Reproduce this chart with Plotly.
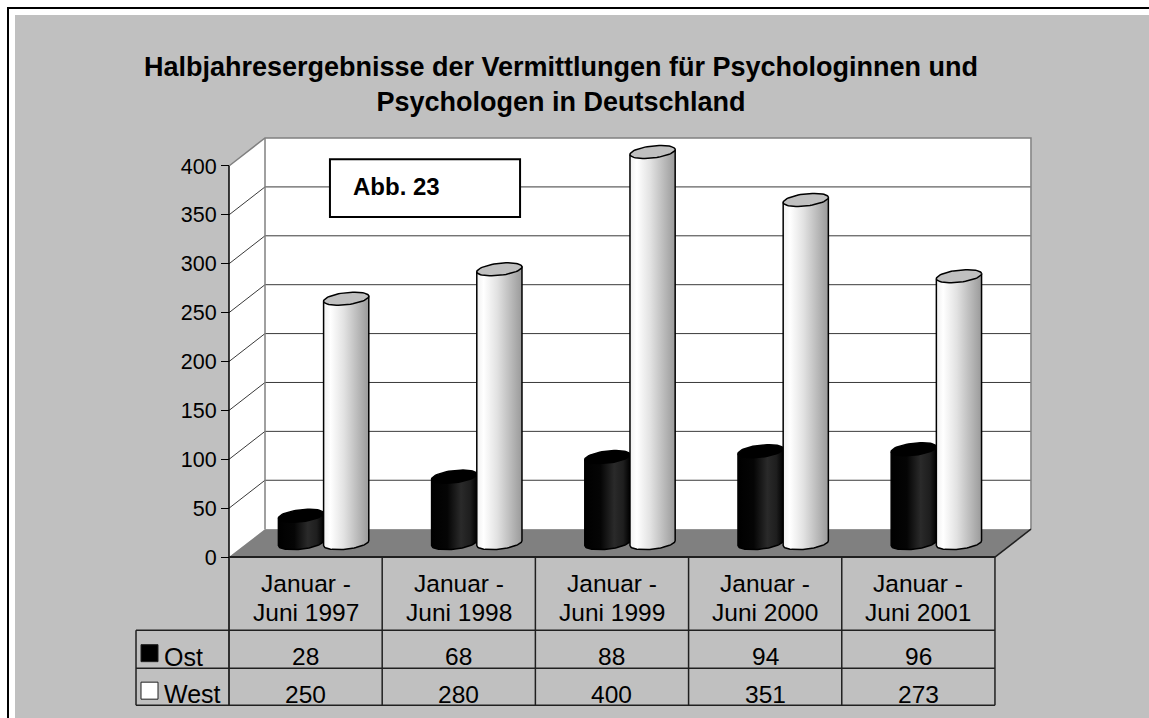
import numpy as np
import plotly.graph_objects as go

# ---------------- data ----------------
CATEGORIES = ["Januar - Juni 1997", "Januar - Juni 1998", "Januar - Juni 1999",
              "Januar - Juni 2000", "Januar - Juni 2001"]
OST = [28, 68, 88, 94, 96]
WEST = [250, 280, 400, 351, 273]
SERIES_NAMES = ["Ost", "West"]
Y_TICKS = [0, 50, 100, 150, 200, 250, 300, 350, 400]
TITLE = "Halbjahresergebnisse der Vermittlungen für Psychologinnen und<br>Psychologen in Deutschland"
NOTE = "Abb. 23"

# ---------------- layout geometry ----------------
W, H = 1149, 718
ML, MR, MT, MB = 120, 109, 130, 6
X_RANGE = [-0.7115, 5.294]
Y_RANGE = [-158.4, 436.8]
PX_X = (W - ML - MR) / (X_RANGE[1] - X_RANGE[0])
PX_Y = (H - MT - MB) / (Y_RANGE[1] - Y_RANGE[0])
DX, DY = 0.235, 28.6          # 3D depth offset (data units)
BAR_W = 0.295                  # cylinder diameter (x units)
RY = 6.2                       # ellipse half height (y units)
TILT = 2.5
ROW_CAT, ROW_OST, ROW_WEST = -74.7, -113.6, -151.4
LEG_X = -0.607
YMAX = Y_TICKS[-1]
N = len(CATEGORIES)
FONT = "Arial, Liberation Sans, sans-serif"


def paper_x(px):
    return (px - ML) / (W - ML - MR)


def paper_y(py):
    return (H - MB - py) / (H - MT - MB)


fig = go.Figure()
shapes = []
annotations = []

# outer frame (top + left only visible) + grey background
shapes.append(dict(type="rect", xref="paper", yref="paper", layer="below",
                   x0=paper_x(15), x1=paper_x(1200), y0=paper_y(760), y1=paper_y(15),
                   fillcolor="#c0c0c0", line=dict(width=0)))
shapes.append(dict(type="path", xref="paper", yref="paper", layer="below",
                   path=f"M{paper_x(8)},{paper_y(760)} L{paper_x(8)},{paper_y(8)} L{paper_x(1200)},{paper_y(8)}",
                   line=dict(color="black", width=2)))

# side wall, back wall, floor
shapes.append(dict(type="path", xref="x", yref="y", layer="below",
                   path=f"M0,0 L{DX},{DY} L{DX},{YMAX+DY} L0,{YMAX} Z",
                   fillcolor="white", line=dict(width=0)))
shapes.append(dict(type="rect", xref="x", yref="y", layer="below",
                   x0=DX, x1=N + DX, y0=DY, y1=YMAX + DY,
                   fillcolor="white", line=dict(width=0)))
shapes.append(dict(type="path", xref="x", yref="y", layer="below",
                   path=f"M0,0 L{N},0 L{N+DX},{DY} L{DX},{DY} Z",
                   fillcolor="#808080", line=dict(width=0)))
# grid lines on walls
for v in Y_TICKS[1:-1]:
    shapes.append(dict(type="path", xref="x", yref="y", layer="below",
                       path=f"M0,{v} L{DX},{v+DY} L{N+DX},{v+DY}",
                       line=dict(color="#3a3a3a", width=1)))
# wall edges
shapes.append(dict(type="path", xref="x", yref="y", layer="below",
                   path=f"M0,{YMAX} L{DX},{YMAX+DY} L{N+DX},{YMAX+DY} L{N+DX},{DY}",
                   line=dict(color="#808080", width=1.5)))
shapes.append(dict(type="line", xref="x", yref="y", layer="below",
                   x0=DX, x1=DX, y0=DY, y1=YMAX + DY, line=dict(color="#808080", width=1.5)))
shapes.append(dict(type="line", xref="x", yref="y", layer="below",
                   x0=N, x1=N + DX, y0=0, y1=DY, line=dict(color="#202020", width=1.5)))

# data table lines
shapes.append(dict(type="line", xref="x", yref="y", x0=0, x1=0, y0=YMAX, y1=ROW_WEST,
                   line=dict(color="black", width=1.5)))
shapes.append(dict(type="line", xref="x", yref="y", x0=0, x1=N, y0=0, y1=0,
                   line=dict(color="#202020", width=2)))
for yy in (ROW_CAT, ROW_OST, ROW_WEST):
    shapes.append(dict(type="line", xref="x", yref="y", x0=LEG_X, x1=N, y0=yy, y1=yy,
                       line=dict(color="#202020", width=1.5)))
shapes.append(dict(type="line", xref="x", yref="y", x0=LEG_X, x1=LEG_X, y0=ROW_CAT, y1=ROW_WEST,
                   line=dict(color="#202020", width=1.5)))
for i in range(1, N + 1):
    shapes.append(dict(type="line", xref="x", yref="y", x0=i, x1=i, y0=0, y1=ROW_WEST,
                       line=dict(color="#202020", width=1.5)))

# legend keys in table
key_x0, key_x1 = LEG_X + 5 / PX_X, LEG_X + 22 / PX_X
for row_top, row_bot, fill in ((ROW_CAT, ROW_OST, "black"), (ROW_OST, ROW_WEST, "white")):
    yc = (row_top + row_bot) / 2 - 4 / PX_Y
    shapes.append(dict(type="rect", xref="x", yref="y", x0=key_x0, x1=key_x1,
                       y0=yc - 8.5 / PX_Y, y1=yc + 8.5 / PX_Y, fillcolor=fill,
                       line=dict(color="#202020", width=1)))

# Abb. box
shapes.append(dict(type="rect", xref="x", yref="y", x0=0.659, x1=1.9, y0=347.7, y1=407,
                   fillcolor="white", line=dict(color="black", width=2)))
annotations.append(dict(x=0.796, y=379.4, xref="x", yref="y", text=f"<b>{NOTE}</b>",
                        showarrow=False, xanchor="left", yanchor="middle",
                        font=dict(family=FONT, size=24, color="black")))


# ---------------- cylinders ----------------
def cylinder(cx, value, colorscale, topcolor):
    hw = BAR_W / 2
    y0 = DY / 2
    y1 = value + DY / 2
    t = np.linspace(0, -np.pi, 40)
    bx = list(cx + hw * np.cos(t))
    by = list(y0 + RY * np.sin(t) + TILT * np.cos(t))
    xs = [cx - hw, cx + hw] + bx + [cx - hw]
    ys = [y1 - TILT, y1 + TILT] + by + [y1 - TILT]
    fig.add_trace(go.Scatter(x=xs, y=ys, mode="lines", fill="toself",
                             fillgradient=dict(type="horizontal", colorscale=colorscale),
                             line=dict(color="black", width=1.5),
                             hoverinfo="skip", showlegend=False))
    tt = np.linspace(0, 2 * np.pi, 60)
    fig.add_trace(go.Scatter(x=cx + hw * np.cos(tt), y=y1 + RY * np.sin(tt) + TILT * np.cos(tt),
                             mode="lines", fill="toself", fillcolor=topcolor,
                             line=dict(color="black", width=1.5),
                             hoverinfo="skip", showlegend=False))


BLACK_SCALE = [[0, "#000000"], [0.35, "#050505"], [0.65, "#2a2a2a"], [0.85, "#1e1e1e"], [1, "#000000"]]
WHITE_SCALE = [[0, "#f0f0f0"], [0.15, "#ffffff"], [0.45, "#e2e2e2"], [0.8, "#b4b4b4"], [1, "#9a9a9a"]]

for i in range(N):
    c = i + 0.5 + DX / 2
    cylinder(c - BAR_W / 2, OST[i], BLACK_SCALE, "#000000")
    cylinder(c + BAR_W / 2, WEST[i], WHITE_SCALE, "#c0c0c0")

# ---------------- table text ----------------
for i, cat in enumerate(CATEGORIES):
    l1, l2 = cat.split(" - ")
    annotations.append(dict(x=i + 0.5, y=-26.6, xref="x", yref="y", text=l1 + " -",
                            showarrow=False, font=dict(family=FONT, size=24.5, color="black")))
    annotations.append(dict(x=i + 0.5, y=-56.8, xref="x", yref="y", text=l2,
                            showarrow=False, font=dict(family=FONT, size=24.5, color="black")))

rows = [((ROW_CAT + ROW_OST) / 2, OST), ((ROW_OST + ROW_WEST) / 2, WEST)]
for (yc, vals), name in zip(rows, SERIES_NAMES):
    ytxt = yc - 7.5 / PX_Y
    for i, v in enumerate(vals):
        annotations.append(dict(x=i + 0.5, y=ytxt, xref="x", yref="y", text=str(v),
                                showarrow=False, font=dict(family=FONT, size=24.5, color="black")))
    annotations.append(dict(x=LEG_X + 26 / PX_X, y=ytxt, xref="x", yref="y", text=name,
                            xanchor="left", showarrow=False,
                            font=dict(family=FONT, size=25, color="black")))

fig.update_layout(
    width=W, height=H,
    margin=dict(l=ML, r=MR, t=MT, b=MB),
    paper_bgcolor="white", plot_bgcolor="rgba(0,0,0,0)",
    showlegend=False, hovermode=False,
    title=dict(text=f"<b>{TITLE}</b>", x=561 / W, xanchor="center", xref="container",
               y=1 - 76 / H, yanchor="middle", yref="container",
               font=dict(family=FONT, size=27, color="black")),
    xaxis=dict(range=X_RANGE, visible=False, fixedrange=True),
    yaxis=dict(range=Y_RANGE, tickvals=Y_TICKS, ticks="outside", ticklen=8,
               tickcolor="black", tickwidth=1, showgrid=False, zeroline=False,
               showline=False, anchor="free", position=paper_x(229),
               tickfont=dict(family=FONT, size=21.5, color="black"), fixedrange=True),
    shapes=shapes, annotations=annotations,
)

fig.write_html("out.html", config={"displayModeBar": False},
               post_script="document.body.style.margin='0';document.body.style.overflow='hidden';")
